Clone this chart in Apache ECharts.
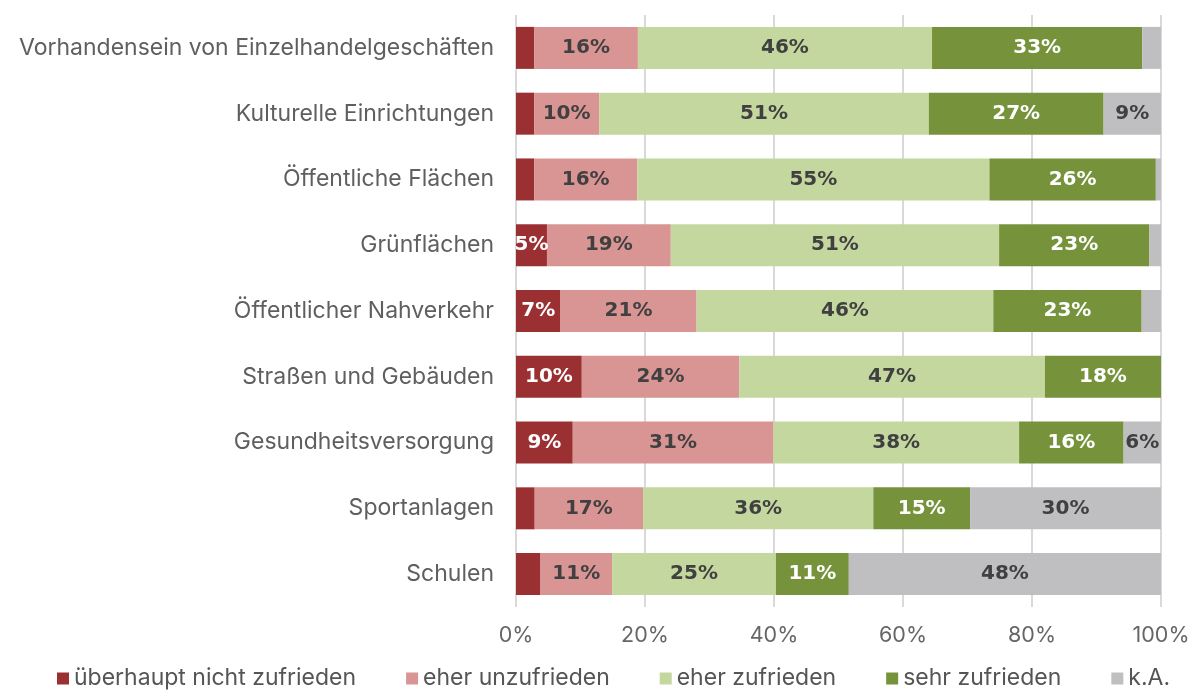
<!DOCTYPE html>
<html lang="de">
<head>
    <meta charset="UTF-8">
    <title>Zufriedenheit</title>
    <script src="https://cdn.jsdelivr.net/npm/echarts@6/dist/echarts.min.js"></script>
    <style>
        html, body { margin: 0; padding: 0; background: #fff; }
        #main { width: 1196px; height: 691px; }
    </style>
</head>
<body>
<div id="main"></div>
<script>
    // Kategorien (von oben nach unten)
    var categories = ['Vorhandensein von Einzelhandelgeschäften', 'Kulturelle Einrichtungen', 'Öffentliche Flächen',
        'Grünflächen', 'Öffentlicher Nahverkehr', 'Straßen und Gebäuden', 'Gesundheitsversorgung', 'Sportanlagen', 'Schulen'];
    var seriesNames = ['überhaupt nicht zufrieden', 'eher unzufrieden', 'eher zufrieden', 'sehr zufrieden', 'k.A.'];

    // Werte in %
    var nichtZufrieden = [2.8, 2.8, 2.8, 4.8, 6.9, 10.2, 8.8, 2.9, 3.8];
    var eherUnzufrieden = [16.1, 10.1, 16.0, 19.2, 21.1, 24.4, 31.1, 16.8, 11.1];
    var eherZufrieden = [45.6, 51.1, 54.6, 50.9, 46.0, 47.4, 38.1, 35.7, 25.4];
    var sehrZufrieden = [32.6, 27.1, 25.8, 23.3, 23.0, 18.0, 16.2, 15.0, 11.3];
    var keineAngabe = [2.9, 8.9, 0.8, 1.8, 3.0, 0, 5.8, 29.6, 48.4];
    var xTicks = ['0%', '20%', '40%', '60%', '80%', '100%'];

    var colors = ['#9b3032', '#d99594', '#c4d79e', '#76933c', '#bfbec1'];
    var labelColors = ['#ffffff', '#404040', '#404040', '#ffffff', '#404040'];
    var allData = [nichtZufrieden, eherUnzufrieden, eherZufrieden, sehrZufrieden, keineAngabe];

    var series = [];
    for (let i = 0; i < allData.length; i++) {
        series.push({
            name: seriesNames[i],
            type: 'bar',
            stack: 'gesamt',
            barWidth: 42,
            data: allData[i],
            itemStyle: { color: colors[i] },
            label: {
                show: true,
                position: 'inside',
                color: labelColors[i],
                fontFamily: 'DejaVu Sans',
                fontWeight: 'bold',
                fontSize: 20,
                formatter: function (p) {
                    return p.value >= 4.5 ? Math.round(p.value) + '%' : '';
                }
            }
        });
    }

    var chart = echarts.init(document.getElementById('main'));
    var option = {
        animation: false,
        grid: { left: 516, right: 35, top: 15, bottom: 84 },
        legend: {
            top: 662,
            left: 52,
            icon: 'rect',
            itemWidth: 12,
            itemHeight: 12,
            itemGap: 50,
            textStyle: { fontFamily: 'Inter', fontSize: 23, color: '#555555' },
            data: seriesNames
        },
        xAxis: {
            type: 'value',
            min: 0,
            max: 100,
            interval: 20,
            axisLine: { show: false },
            axisTick: { show: false },
            splitLine: { lineStyle: { color: '#d9d9d9', width: 2 } },
            axisLabel: {
                margin: 18,
                fontFamily: 'Inter',
                fontSize: 21.5,
                color: '#666666',
                formatter: function (v) { return xTicks[v / 20]; }
            }
        },
        yAxis: {
            type: 'category',
            inverse: true,
            data: categories,
            axisLine: { show: false },
            axisTick: { show: false },
            axisLabel: {
                margin: 22,
                fontFamily: 'Inter',
                fontSize: 23,
                color: '#5f5f5f'
            }
        },
        series: series
    };
    chart.setOption(option);
</script>
</body>
</html>
